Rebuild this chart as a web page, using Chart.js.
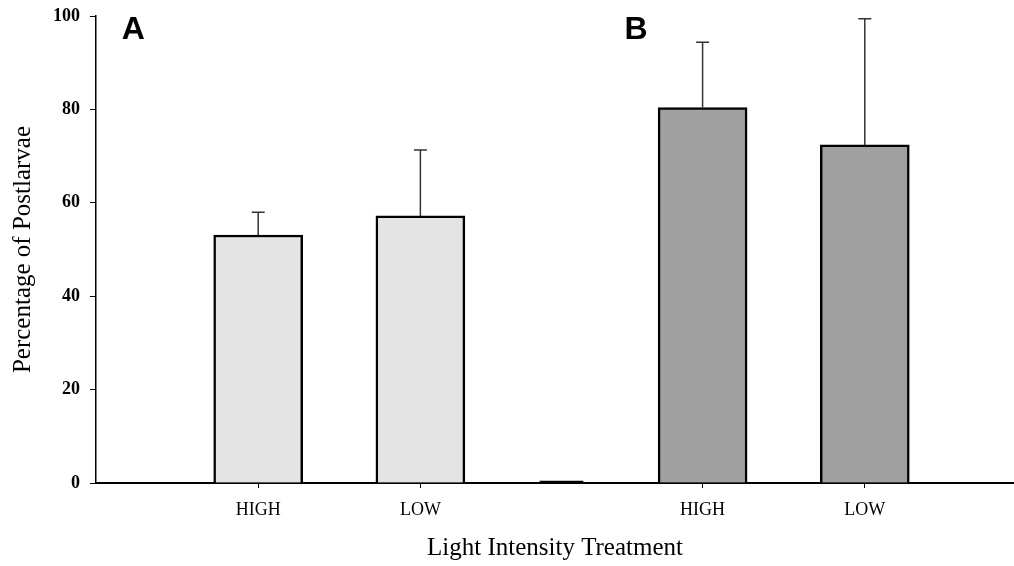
<!DOCTYPE html>
<html>
<head>
<meta charset="utf-8">
<title>Percentage of Postlarvae</title>
<script src="https://cdn.jsdelivr.net/npm/chart.js@4.4.0/dist/chart.umd.min.js"></script>
<style>
    html, body { margin: 0; padding: 0; background: #fff; }
    #wrap { width: 1014px; height: 566px; }
</style>
</head>
<body>
<div id="wrap"><canvas id="chart" width="1014" height="566"></canvas></div>
<script>
// Treatment labels and where they sit on the x axis
const categories = ['HIGH', 'LOW', 'HIGH', 'LOW'];
const positionsA = [1, 2];
const positionsB = [3.74, 4.74];
const spacerPosition = [2.87];

// Means and upper error (SD)
const valuesA = [53.1, 57.2];
const errorsA = [4.9, 14.1];
const valuesB = [80.4, 72.4];
const errorsB = [14.0, 27.0];

const yTicks = [0, 20, 40, 60, 80, 100];

// Panel letters
const panelLabels = ['A', 'B'];
const panelLabelX = [0.23, 3.33];
const panelLabelY = 97;

const serif = "'Liberation Serif', 'Times New Roman', serif";

// Draw the one-sided error bars from the bar top upward
const errorBarPlugin = {
    id: 'errorBars',
    afterDatasetsDraw(chart) {
        const ctx = chart.ctx;
        const yScale = chart.scales.y;
        ctx.save();
        ctx.strokeStyle = '#333';
        ctx.lineWidth = 1.5;
        chart.data.datasets.forEach((ds, i) => {
            if (!ds.errors) return;
            const meta = chart.getDatasetMeta(i);
            meta.data.forEach((bar, j) => {
                const top = yScale.getPixelForValue(ds.data[j].y + ds.errors[j]);
                ctx.beginPath();
                ctx.moveTo(bar.x, bar.y);
                ctx.lineTo(bar.x, top);
                ctx.moveTo(bar.x - 6.5, top);
                ctx.lineTo(bar.x + 6.5, top);
                ctx.stroke();
            });
        });
        ctx.restore();
    }
};

const panelLabelPlugin = {
    id: 'panelLabels',
    afterDraw(chart) {
        const ctx = chart.ctx;
        ctx.save();
        ctx.fillStyle = '#000';
        ctx.font = "bold 32px 'Liberation Sans', Arial, sans-serif";
        ctx.textAlign = 'center';
        ctx.textBaseline = 'middle';
        panelLabels.forEach((t, i) => {
            ctx.fillText(t, chart.scales.x.getPixelForValue(panelLabelX[i]),
                chart.scales.y.getPixelForValue(panelLabelY));
        });
        ctx.restore();
    }
};

const toPoints = (xs, ys) => xs.map((x, i) => ({ x: x, y: ys[i] }));
const tickPositions = positionsA.concat(positionsB);

new Chart(document.getElementById('chart').getContext('2d'), {
    type: 'bar',
    data: {
        datasets: [
            {
                label: 'A',
                data: toPoints(positionsA, valuesA),
                errors: errorsA,
                backgroundColor: '#e4e4e4',
                borderColor: '#000',
                borderWidth: 2.5,
                borderSkipped: 'bottom',
                barThickness: 89
            },
            {
                label: 'B',
                data: toPoints(positionsB, valuesB),
                errors: errorsB,
                backgroundColor: '#a0a0a0',
                borderColor: '#000',
                borderWidth: 2.5,
                borderSkipped: 'bottom',
                barThickness: 89
            },
            {
                label: 'spacer',
                data: toPoints(spacerPosition, [0]),
                backgroundColor: '#000',
                borderWidth: 0,
                minBarLength: 2,
                barThickness: 43
            }
        ]
    },
    options: {
        responsive: false,
        animation: false,
        devicePixelRatio: 1,
        grouped: false,
        layout: { padding: { left: 0, right: 0, top: 16, bottom: 0 } },
        plugins: {
            legend: { display: false },
            tooltip: { enabled: false }
        },
        scales: {
            x: {
                type: 'linear',
                min: 0,
                max: 5.66,
                offset: false,
                afterBuildTicks: function(scale) {
                    scale.ticks = tickPositions.map(v => ({ value: v }));
                },
                afterFit: function(scale) { scale.height = 83; },
                grid: {
                    offset: false,
                    drawOnChartArea: false,
                    color: '#000',
                    lineWidth: 1,
                    tickLength: 5
                },
                border: { display: true, color: '#000', width: 2 },
                ticks: {
                    autoSkip: false,
                    maxRotation: 0,
                    padding: 11,
                    color: '#000',
                    font: { family: serif, size: 18 },
                    callback: function(value, index) { return categories[index]; }
                },
                title: {
                    display: true,
                    text: 'Light Intensity Treatment',
                    color: '#000',
                    font: { family: serif, size: 25 },
                    padding: { top: 0, bottom: 3 }
                }
            },
            y: {
                min: 0,
                max: 100,
                afterBuildTicks: function(scale) {
                    scale.ticks = yTicks.map(v => ({ value: v }));
                },
                afterFit: function(scale) {
                    scale.width = 96;
                    scale.paddingTop = 0;
                    scale.paddingBottom = 0;
                },
                grid: {
                    drawOnChartArea: false,
                    color: '#000',
                    lineWidth: 1,
                    tickLength: 6
                },
                border: { display: true, color: '#000', width: 1.5 },
                ticks: {
                    padding: 10,
                    color: '#000',
                    font: { family: serif, size: 18, weight: 'bold' }
                },
                title: {
                    display: true,
                    text: 'Percentage of Postlarvae',
                    color: '#000',
                    font: { family: serif, size: 25 },
                    padding: { top: 8, bottom: 0 }
                }
            }
        }
    },
    plugins: [errorBarPlugin, panelLabelPlugin]
});
</script>
</body>
</html>
